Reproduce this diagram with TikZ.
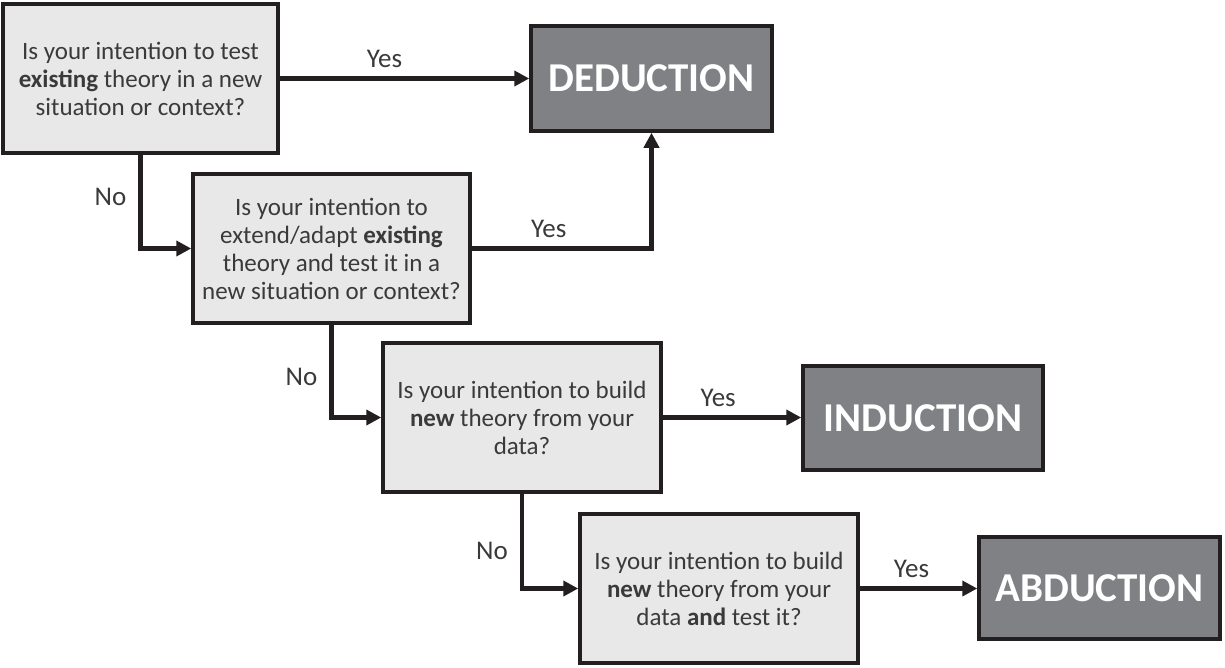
\documentclass[tikz,border=0pt]{standalone}
\usepackage{fontspec}
\setmainfont{Carlito}
\usetikzlibrary{arrows.meta}
\definecolor{qfill}{HTML}{E8E8E8}
\definecolor{rfill}{HTML}{808184}
\definecolor{edge}{HTML}{231F20}
\definecolor{txt}{HTML}{3A3A3A}
\begin{document}
\begin{tikzpicture}[x=1pt,y=-1pt,
  question/.style={draw=edge, line width=3.5pt, fill=qfill, text=txt, align=center,
    font=\fontsize{25}{28}\selectfont, inner sep=0pt},
  result/.style={draw=edge, line width=3.5pt, fill=rfill, text=white,
    font=\fontsize{41}{44}\selectfont\bfseries, inner sep=0pt},
  flow/.style={draw=edge, line width=4.5pt, -{Triangle[length=15pt,width=15pt]}},
  lbl/.style={text=txt, font=\fontsize{27}{29}\selectfont, inner sep=0pt}]
  \useasboundingbox (0,0) rectangle (1225,667);

  % question boxes
  \node[question, minimum width=275pt, minimum height=149pt] (q1) at (140.5,78.5)
    {Is your intention to test\\\textbf{existing} theory in a new\\situation or context?};
  \node[question, minimum width=277pt, minimum height=149pt] (q2) at (331.5,248.5)
    {Is your intention to\\extend/adapt \textbf{existing}\\theory and test it in a\\new situation or context?};
  \node[question, minimum width=278pt, minimum height=149pt] (q3) at (522,417.5)
    {Is your intention to build\\\textbf{new} theory from your\\data?};
  \node[question, minimum width=278pt, minimum height=149pt] (q4) at (719,588.5)
    {Is your intention to build\\\textbf{new} theory from your\\data \textbf{and} test it?};

  % outcome boxes
  \node[result, minimum width=241pt, minimum height=105pt] (ded) at (651.5,78.5) {DEDUCTION};
  \node[result, minimum width=240pt, minimum height=104pt] (ind) at (923,418) {INDUCTION};
  \node[result, minimum width=241pt, minimum height=102pt] (abd) at (1099.5,588) {ABDUCTION};

  % yes branches
  \draw[flow] (q1.east |- ded.west) -- node[lbl, pos=0.42, above=9pt] (y1) {Yes} (ded.west);
  \draw[flow] (q2.east) -| node[lbl, pos=0.214, above=9pt] (y2) {Yes} (ded.south);
  \draw[flow] (q3.east) -- node[lbl, pos=0.4, above=9pt] (y3) {Yes} (ind.west |- q3.east);
  \draw[flow] (q4.east) -- node[lbl, pos=0.44, above=9pt] (y4) {Yes} (abd.west |- q4.east);

  % no branches
  \draw[flow] (q1.south) |- node[lbl, pos=0.225, left=12pt] (n1) {No} (q2.west);
  \draw[flow] (q2.south) |- node[lbl, pos=0.28, left=12pt] (n2) {No} (q3.west);
  \draw[flow] (q3.south) |- node[lbl, pos=0.3, left=12pt] (n3) {No} (q4.west);
\end{tikzpicture}
\end{document}
